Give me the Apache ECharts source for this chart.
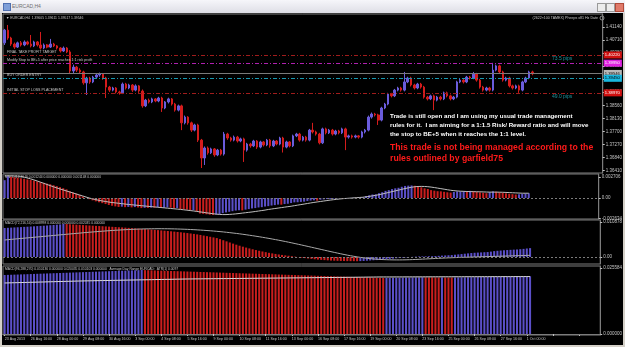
<!DOCTYPE html>
<html>
<head>
<meta charset="utf-8">
<script src="https://cdn.jsdelivr.net/npm/echarts@6/dist/echarts.min.js"></script>
<style>
  html, body { margin: 0; padding: 0; background: #d4d0c8; }
  #win { position: relative; width: 625px; height: 347px; background: #d4d0c8; overflow: hidden; }
  #titlebar { position: absolute; left: 0; top: 0; width: 625px; height: 13px; background: linear-gradient(#f6f6fa, #dedee6); }
  #titlebar .cap { position: absolute; left: 12px; top: 3px; font: 5px 'Liberation Sans'; color: #707070; }
  #titlebar .ico { position: absolute; left: 3px; top: 3px; width: 6px; height: 6px; background: #7f9fd8; border: 1px solid #5070b0; }
  .btn { position: absolute; top: 3px; width: 7px; height: 7px; border: 1px solid #9a9a9a; background: #ececec; }
  .btn.x { background: #e07a6a; border-color: #b04a3a; }
  #frame { position: absolute; left: 2px; top: 13px; width: 621px; height: 332px; background: #000; }
  #chart { position: absolute; left: 0; top: 0; width: 625px; height: 347px; }
</style>
</head>
<body>
<div id="win">
  <div id="titlebar"><div class="ico"></div><span class="cap">EURCAD,H4</span>
    <div class="btn" style="left:597px"></div><div class="btn" style="left:606px"></div><div class="btn x" style="left:615px"></div>
  </div>
  <div id="frame"></div>
  <div id="chart"></div>
</div>
<script>
// H4 bars, 23 Aug 2013 .. 1 Oct 2013 : [open, close, low, high]
const candles = [
  [1.4062,1.4104,1.4055,1.4108],[1.4104,1.4078,1.4072,1.4121],[1.4078,1.4058,1.4052,1.4082],[1.4058,1.4048,1.4042,1.4063],
  [1.4048,1.4062,1.4045,1.4066],[1.4062,1.4055,1.4050,1.4068],[1.4055,1.4065,1.4051,1.4070],[1.4065,1.4058,1.4054,1.4069],
  [1.4058,1.4052,1.4047,1.4088],[1.4052,1.4065,1.4048,1.4069],[1.4065,1.4055,1.4050,1.4068],[1.4055,1.4045,1.4040,1.4098],
  [1.4045,1.4055,1.4041,1.4060],[1.4055,1.4048,1.4044,1.4058],[1.4048,1.4058,1.4045,1.4075],[1.4058,1.4052,1.4048,1.4062],
  [1.4052,1.4045,1.4040,1.4055],[1.4045,1.4035,1.4030,1.4048],[1.4035,1.4045,1.4032,1.4050],[1.4045,1.4032,1.4028,1.4048],
  [1.4032,1.3969,1.3959,1.4038],[1.3969,1.3982,1.3962,1.3990],[1.3982,1.3972,1.3966,1.3986],[1.3972,1.3966,1.3960,1.3978],
  [1.3966,1.3930,1.3924,1.3970],[1.3930,1.3946,1.3890,1.3950],[1.3946,1.3933,1.3927,1.3950],[1.3933,1.3949,1.3929,1.3953],
  [1.3949,1.3956,1.3944,1.3960],[1.3956,1.3959,1.3950,1.3964],[1.3959,1.3946,1.3940,1.3962],[1.3946,1.3916,1.3880,1.3950],
  [1.3916,1.3906,1.3900,1.3920],[1.3906,1.3913,1.3902,1.3917],[1.3913,1.3900,1.3895,1.3916],[1.3900,1.3897,1.3891,1.3904],
  [1.3897,1.3926,1.3893,1.3931],[1.3926,1.3913,1.3908,1.3930],[1.3913,1.3923,1.3909,1.3927],[1.3923,1.3906,1.3900,1.3926],
  [1.3906,1.3920,1.3902,1.3925],[1.3920,1.3903,1.3897,1.3923],[1.3903,1.3854,1.3848,1.3908],[1.3854,1.3873,1.3850,1.3877],
  [1.3873,1.3867,1.3862,1.3878],[1.3867,1.3877,1.3863,1.3881],[1.3877,1.3870,1.3866,1.3880],[1.3870,1.3880,1.3866,1.3884],
  [1.3880,1.3847,1.3834,1.3884],[1.3847,1.3867,1.3843,1.3870],[1.3867,1.3877,1.3862,1.3881],[1.3877,1.3860,1.3855,1.3880],
  [1.3860,1.3840,1.3835,1.3864],[1.3840,1.3854,1.3836,1.3858],[1.3854,1.3798,1.3774,1.3858],[1.3798,1.3817,1.3793,1.3822],
  [1.3817,1.3798,1.3792,1.3820],[1.3798,1.3774,1.3768,1.3802],[1.3774,1.3791,1.3770,1.3795],[1.3791,1.3741,1.3735,1.3795],
  [1.3741,1.3682,1.3649,1.3745],[1.3682,1.3715,1.3659,1.3720],[1.3715,1.3699,1.3693,1.3720],[1.3699,1.3712,1.3695,1.3716],
  [1.3712,1.3692,1.3686,1.3715],[1.3692,1.3708,1.3688,1.3712],[1.3708,1.3695,1.3690,1.3712],[1.3695,1.3761,1.3690,1.3768],
  [1.3761,1.3748,1.3742,1.3765],[1.3748,1.3741,1.3736,1.3752],[1.3741,1.3751,1.3737,1.3756],[1.3751,1.3738,1.3733,1.3755],
  [1.3738,1.3745,1.3734,1.3749],[1.3745,1.3708,1.3669,1.3749],[1.3708,1.3728,1.3703,1.3732],[1.3728,1.3722,1.3716,1.3732],
  [1.3722,1.3738,1.3718,1.3742],[1.3738,1.3718,1.3712,1.3741],[1.3718,1.3735,1.3714,1.3739],[1.3735,1.3725,1.3720,1.3738],
  [1.3725,1.3741,1.3721,1.3745],[1.3741,1.3722,1.3716,1.3745],[1.3722,1.3738,1.3718,1.3742],[1.3738,1.3728,1.3724,1.3741],
  [1.3728,1.3748,1.3724,1.3752],[1.3748,1.3718,1.3700,1.3752],[1.3718,1.3735,1.3714,1.3739],[1.3735,1.3722,1.3717,1.3738],
  [1.3722,1.3755,1.3718,1.3759],[1.3755,1.3761,1.3751,1.3765],[1.3761,1.3741,1.3736,1.3765],[1.3741,1.3751,1.3737,1.3755],
  [1.3751,1.3741,1.3736,1.3755],[1.3741,1.3774,1.3737,1.3778],[1.3774,1.3768,1.3763,1.3798],[1.3768,1.3761,1.3756,1.3772],
  [1.3761,1.3732,1.3727,1.3765],[1.3732,1.3778,1.3728,1.3782],[1.3778,1.3765,1.3760,1.3782],[1.3765,1.3774,1.3761,1.3778],
  [1.3774,1.3761,1.3756,1.3778],[1.3761,1.3771,1.3757,1.3775],[1.3771,1.3765,1.3760,1.3775],[1.3765,1.3778,1.3761,1.3782],
  [1.3778,1.3751,1.3708,1.3782],[1.3751,1.3755,1.3746,1.3759],[1.3755,1.3751,1.3746,1.3759],[1.3751,1.3755,1.3747,1.3759],
  [1.3755,1.3751,1.3746,1.3758],[1.3751,1.3768,1.3747,1.3772],[1.3768,1.3774,1.3763,1.3778],[1.3774,1.3817,1.3770,1.3822],
  [1.3817,1.3827,1.3812,1.3832],[1.3827,1.3824,1.3819,1.3831],[1.3824,1.3807,1.3791,1.3828],[1.3807,1.3847,1.3803,1.3851],
  [1.3847,1.3860,1.3843,1.3864],[1.3860,1.3893,1.3856,1.3897],[1.3893,1.3887,1.3882,1.3897],[1.3887,1.3906,1.3883,1.3910],
  [1.3906,1.3913,1.3902,1.3917],[1.3913,1.3906,1.3901,1.3917],[1.3906,1.3933,1.3902,1.3966],[1.3933,1.3946,1.3929,1.3950],
  [1.3946,1.3923,1.3918,1.3950],[1.3923,1.3913,1.3908,1.3927],[1.3913,1.3926,1.3909,1.3930],[1.3926,1.3916,1.3911,1.3930],
  [1.3916,1.3883,1.3878,1.3920],[1.3883,1.3877,1.3872,1.3887],[1.3877,1.3887,1.3873,1.3891],[1.3887,1.3873,1.3840,1.3891],
  [1.3873,1.3883,1.3869,1.3887],[1.3883,1.3877,1.3872,1.3887],[1.3877,1.3897,1.3873,1.3901],[1.3897,1.3887,1.3882,1.3901],
  [1.3887,1.3877,1.3872,1.3891],[1.3877,1.3883,1.3873,1.3887],[1.3883,1.3933,1.3879,1.3937],[1.3933,1.3939,1.3929,1.3943],
  [1.3939,1.3933,1.3928,1.3943],[1.3933,1.3949,1.3929,1.3953],[1.3949,1.3946,1.3941,1.3953],[1.3946,1.3959,1.3942,1.3966],
  [1.3959,1.3939,1.3934,1.3963],[1.3939,1.3916,1.3911,1.3943],[1.3916,1.3906,1.3901,1.3920],[1.3906,1.3913,1.3902,1.3917],
  [1.3913,1.3906,1.3901,1.3917],[1.3906,1.3972,1.3902,1.3996],[1.3972,1.3986,1.3968,1.3990],[1.3986,1.3966,1.3961,1.3990],
  [1.3966,1.3939,1.3934,1.3970],[1.3939,1.3946,1.3935,1.3950],[1.3946,1.3920,1.3915,1.3950],[1.3920,1.3913,1.3908,1.3924],
  [1.3913,1.3920,1.3909,1.3924],[1.3920,1.3906,1.3897,1.3924],[1.3906,1.3933,1.3902,1.3937],[1.3933,1.3946,1.3929,1.3950],
  [1.3946,1.3966,1.3942,1.3970],[1.3966,1.3960,1.3955,1.3970]
];

// MACD(12,26,9)
const macdFastHist = [
  0.00230,0.00282,0.00275,0.00268,0.00262,0.00255,0.00247,0.00240,0.00234,0.00226,
  0.00215,0.00205,0.00196,0.00186,0.00178,0.00166,0.00154,0.00141,0.00127,0.00112,
  0.00088,0.00072,0.00058,0.00041,0.00020,0.00002,-0.00015,-0.00030,-0.00043,-0.00055,
  -0.00066,-0.00078,-0.00090,-0.00100,-0.00108,-0.00115,-0.00112,-0.00118,-0.00115,-0.00121,
  -0.00117,-0.00122,-0.00130,-0.00127,-0.00128,-0.00124,-0.00125,-0.00120,-0.00128,-0.00126,
  -0.00122,-0.00125,-0.00132,-0.00130,-0.00145,-0.00146,-0.00150,-0.00160,-0.00158,-0.00175,
  -0.00200,-0.00205,-0.00210,-0.00215,-0.00219,-0.00214,-0.00212,-0.00195,-0.00186,-0.00178,
  -0.00170,-0.00162,-0.00158,-0.00160,-0.00150,-0.00143,-0.00135,-0.00130,-0.00122,-0.00118,
  -0.00110,-0.00105,-0.00097,-0.00092,-0.00085,-0.00086,-0.00078,-0.00074,-0.00065,-0.00056,
  -0.00055,-0.00050,-0.00047,-0.00038,-0.00033,-0.00030,-0.00035,-0.00022,-0.00018,-0.00014,
  -0.00012,-0.00008,-0.00006,-0.00002,-0.00008,-0.00005,0.00001,0.00003,0.00002,0.00006,
  0.00010,0.00025,0.00036,0.00045,0.00048,0.00062,0.00075,0.00092,0.00102,0.00115,
  0.00125,0.00132,0.00145,0.00156,0.00160,0.00162,0.00158,0.00152,0.00138,0.00125,
  0.00116,0.00102,0.00095,0.00088,0.00086,0.00080,0.00074,0.00070,0.00078,0.00085,
  0.00086,0.00090,0.00089,0.00092,0.00088,0.00080,0.00072,0.00068,0.00062,0.00075,
  0.00086,0.00082,0.00074,0.00068,0.00060,0.00054,0.00050,0.00045,0.00048,0.00053,
  0.00060,0.00062
];
const macdFastSignal = [
  0.00286,0.00286,0.00285,0.00284,0.00282,0.00279,0.00270,0.00259,0.00247,0.00234,
  0.00220,0.00205,0.00190,0.00175,0.00160,0.00145,0.00131,0.00117,0.00104,0.00091,
  0.00078,0.00065,0.00052,0.00039,0.00026,0.00013,0.00000,-0.00011,-0.00021,-0.00030,
  -0.00038,-0.00045,-0.00052,-0.00058,-0.00063,-0.00068,-0.00073,-0.00078,-0.00083,-0.00087,
  -0.00091,-0.00095,-0.00099,-0.00103,-0.00107,-0.00111,-0.00115,-0.00119,-0.00123,-0.00127,
  -0.00131,-0.00135,-0.00139,-0.00143,-0.00147,-0.00152,-0.00157,-0.00162,-0.00167,-0.00173,
  -0.00179,-0.00185,-0.00191,-0.00197,-0.00203,-0.00208,-0.00212,-0.00214,-0.00214,-0.00212,
  -0.00209,-0.00205,-0.00200,-0.00195,-0.00190,-0.00185,-0.00180,-0.00174,-0.00168,-0.00162,
  -0.00156,-0.00148,-0.00142,-0.00136,-0.00130,-0.00124,-0.00118,-0.00112,-0.00106,-0.00099,
  -0.00092,-0.00085,-0.00078,-0.00071,-0.00064,-0.00057,-0.00051,-0.00045,-0.00039,-0.00033,
  -0.00027,-0.00022,-0.00017,-0.00012,-0.00008,-0.00005,-0.00002,0.00001,0.00004,0.00007,
  0.00010,0.00015,0.00021,0.00028,0.00035,0.00043,0.00052,0.00062,0.00072,0.00082,
  0.00092,0.00102,0.00112,0.00122,0.00131,0.00139,0.00145,0.00149,0.00150,0.00149,
  0.00146,0.00141,0.00135,0.00128,0.00121,0.00114,0.00107,0.00100,0.00095,0.00091,
  0.00088,0.00086,0.00084,0.00083,0.00082,0.00081,0.00080,0.00079,0.00077,0.00076,
  0.00076,0.00076,0.00075,0.00074,0.00072,0.00070,0.00068,0.00066,0.00064,0.00062,
  0.00062,0.00062
];

// MACD(72,216,54)
const macdMidHist = [
  0.00899,0.00905,0.00911,0.00917,0.00922,0.00928,0.00934,0.00939,0.00945,0.00951,
  0.00958,0.00964,0.00970,0.00977,0.00985,0.00993,0.01002,0.01010,0.01025,0.01022,
  0.01015,0.01008,0.01002,0.00996,0.00989,0.00983,0.00977,0.00971,0.00965,0.00960,
  0.00954,0.00948,0.00942,0.00936,0.00930,0.00923,0.00917,0.00910,0.00903,0.00896,
  0.00889,0.00882,0.00873,0.00865,0.00857,0.00849,0.00841,0.00833,0.00824,0.00815,
  0.00806,0.00797,0.00787,0.00777,0.00766,0.00754,0.00742,0.00729,0.00716,0.00701,
  0.00684,0.00665,0.00646,0.00627,0.00607,0.00587,0.00555,0.00520,0.00485,0.00450,
  0.00415,0.00382,0.00350,0.00320,0.00292,0.00266,0.00240,0.00216,0.00193,0.00171,
  0.00150,0.00130,0.00112,0.00095,0.00079,0.00064,0.00051,0.00039,0.00025,0.00010,
  -0.00005,-0.00020,-0.00034,-0.00047,-0.00059,-0.00070,-0.00080,-0.00089,-0.00097,-0.00104,
  -0.00110,-0.00115,-0.00119,-0.00122,-0.00125,-0.00127,-0.00128,-0.00129,-0.00130,-0.00127,
  -0.00123,-0.00116,-0.00108,-0.00101,-0.00096,-0.00088,-0.00079,-0.00068,-0.00059,-0.00049,
  -0.00039,-0.00030,-0.00020,-0.00010,-0.00002,0.00005,0.00011,0.00016,0.00018,0.00020,
  0.00023,0.00025,0.00030,0.00036,0.00043,0.00049,0.00054,0.00059,0.00070,0.00081,
  0.00091,0.00102,0.00112,0.00123,0.00131,0.00137,0.00142,0.00148,0.00153,0.00167,
  0.00182,0.00193,0.00201,0.00209,0.00216,0.00222,0.00228,0.00233,0.00242,0.00252,
  0.00264,0.00275
];
const macdMidSignal = [
  0.00527,0.00537,0.00546,0.00556,0.00565,0.00574,0.00584,0.00593,0.00602,0.00612,
  0.00621,0.00630,0.00640,0.00649,0.00658,0.00668,0.00677,0.00686,0.00696,0.00705,
  0.00714,0.00723,0.00732,0.00741,0.00750,0.00759,0.00768,0.00776,0.00784,0.00792,
  0.00800,0.00808,0.00815,0.00822,0.00829,0.00835,0.00841,0.00847,0.00852,0.00857,
  0.00861,0.00865,0.00868,0.00871,0.00873,0.00875,0.00876,0.00877,0.00877,0.00876,
  0.00875,0.00873,0.00871,0.00868,0.00865,0.00861,0.00857,0.00852,0.00847,0.00841,
  0.00835,0.00828,0.00821,0.00813,0.00805,0.00796,0.00787,0.00777,0.00766,0.00755,
  0.00743,0.00731,0.00718,0.00704,0.00690,0.00675,0.00660,0.00644,0.00628,0.00611,
  0.00594,0.00576,0.00558,0.00539,0.00520,0.00500,0.00480,0.00459,0.00438,0.00416,
  0.00394,0.00372,0.00349,0.00326,0.00303,0.00280,0.00257,0.00234,0.00211,0.00188,
  0.00165,0.00143,0.00121,0.00099,0.00078,0.00058,0.00039,0.00021,0.00004,-0.00012,
  -0.00026,-0.00039,-0.00050,-0.00060,-0.00068,-0.00075,-0.00080,-0.00084,-0.00087,-0.00089,
  -0.00090,-0.00090,-0.00089,-0.00087,-0.00084,-0.00080,-0.00076,-0.00071,-0.00066,-0.00061,
  -0.00056,-0.00051,-0.00046,-0.00041,-0.00036,-0.00031,-0.00027,-0.00023,-0.00019,-0.00015,
  -0.00011,-0.00008,-0.00005,-0.00002,0.00001,0.00004,0.00007,0.00010,0.00013,0.00016,
  0.00019,0.00022,0.00025,0.00028,0.00031,0.00034,0.00037,0.00040,0.00043,0.00046,
  0.00049,0.00052
];

// MACD(96,288,270)
const macdSlowHist = [
  0.02289,0.02294,0.02298,0.02303,0.02307,0.02312,0.02316,0.02321,0.02326,0.02330,
  0.02335,0.02339,0.02344,0.02349,0.02353,0.02358,0.02362,0.02367,0.02372,0.02376,
  0.02381,0.02385,0.02390,0.02395,0.02399,0.02404,0.02408,0.02413,0.02418,0.02422,
  0.02427,0.02431,0.02436,0.02441,0.02445,0.02450,0.02454,0.02459,0.02464,0.02468,
  0.02473,0.02477,0.02482,0.02478,0.02474,0.02470,0.02466,0.02462,0.02457,0.02453,
  0.02449,0.02445,0.02441,0.02437,0.02432,0.02428,0.02424,0.02420,0.02416,0.02412,
  0.02407,0.02403,0.02399,0.02395,0.02391,0.02387,0.02382,0.02378,0.02374,0.02370,
  0.02366,0.02362,0.02357,0.02353,0.02349,0.02345,0.02341,0.02337,0.02332,0.02328,
  0.02324,0.02320,0.02316,0.02312,0.02307,0.02303,0.02299,0.02295,0.02291,0.02287,
  0.02282,0.02278,0.02274,0.02270,0.02266,0.02262,0.02257,0.02253,0.02249,0.02245,
  0.02241,0.02237,0.02232,0.02228,0.02224,0.02220,0.02216,0.02212,0.02207,0.02203,
  0.02199,0.02195,0.02191,0.02187,0.02182,0.02178,0.02174,0.02176,0.02178,0.02180,
  0.02182,0.02184,0.02186,0.02188,0.02190,0.02192,0.02194,0.02196,0.02198,0.02197,
  0.02196,0.02195,0.02194,0.02193,0.02194,0.02193,0.02192,0.02191,0.02193,0.02195,
  0.02197,0.02199,0.02201,0.02203,0.02205,0.02207,0.02209,0.02211,0.02213,0.02215,
  0.02217,0.02219,0.02221,0.02223,0.02225,0.02227,0.02229,0.02231,0.02233,0.02235,
  0.02237,0.02239
];
const macdSlowSignal = [
  0.01979,0.01982,0.01986,0.01989,0.01992,0.01996,0.01999,0.02002,0.02006,0.02009,
  0.02013,0.02016,0.02019,0.02023,0.02026,0.02029,0.02033,0.02036,0.02039,0.02043,
  0.02046,0.02049,0.02053,0.02056,0.02058,0.02061,0.02063,0.02065,0.02068,0.02070,
  0.02073,0.02075,0.02077,0.02080,0.02082,0.02084,0.02087,0.02089,0.02092,0.02094,
  0.02096,0.02099,0.02101,0.02103,0.02106,0.02108,0.02111,0.02113,0.02115,0.02118,
  0.02120,0.02122,0.02125,0.02127,0.02130,0.02132,0.02134,0.02135,0.02137,0.02138,
  0.02139,0.02141,0.02142,0.02143,0.02145,0.02146,0.02147,0.02148,0.02150,0.02151,
  0.02152,0.02154,0.02155,0.02156,0.02158,0.02159,0.02160,0.02161,0.02163,0.02164,
  0.02165,0.02167,0.02168,0.02169,0.02171,0.02172,0.02173,0.02175,0.02176,0.02177,
  0.02179,0.02180,0.02181,0.02183,0.02184,0.02185,0.02187,0.02188,0.02189,0.02191,
  0.02192,0.02193,0.02195,0.02196,0.02197,0.02199,0.02200,0.02201,0.02203,0.02204,
  0.02205,0.02207,0.02208,0.02209,0.02211,0.02212,0.02212,0.02213,0.02213,0.02213,
  0.02214,0.02214,0.02214,0.02215,0.02215,0.02215,0.02216,0.02216,0.02216,0.02217,
  0.02217,0.02217,0.02218,0.02218,0.02218,0.02219,0.02219,0.02219,0.02220,0.02220,
  0.02220,0.02221,0.02221,0.02221,0.02222,0.02222,0.02222,0.02223,0.02223,0.02223,
  0.02224,0.02224,0.02224,0.02225,0.02225,0.02225,0.02226,0.02226,0.02226,0.02227,
  0.02227,0.02227
];

// time axis: one label every 8 bars
const dateLabels = ['23 Aug 2013','26 Aug 16:00','28 Aug 00:00','29 Aug 08:00','30 Aug 16:00','3 Sep 00:00',
  '4 Sep 08:00','5 Sep 16:00','9 Sep 00:00','10 Sep 08:00','11 Sep 16:00','13 Sep 00:00','16 Sep 08:00',
  '17 Sep 16:00','19 Sep 00:00','20 Sep 08:00','23 Sep 16:00','25 Sep 00:00','26 Sep 08:00','27 Sep 16:00','1 Oct 00:00'];
const slotCount = 183;   // bars + empty right shift

const priceTicks = [1.41140,1.40710,1.40280,1.39850,1.39420,1.38990,1.38560,1.38130,1.37700,1.37270,1.36840,1.36410];
const fastTicks = [0.002706, 0, -0.002634];
const midTicks = [0.010878, 0, -0.0022];
const slowTicks = [0.025584, 0];

// trade levels drawn on the price pane
const levels = [
  { name: 'FINAL TAKE PROFIT TARGET', value: 1.4022, tag: '1.40220', color: '#a01c1c', tagBg: '#d01010', tagFg: '#fff' },
  { name: 'Modify Stop to BE+5 after price reaches 1:1 risk profit', value: 1.3995, tag: '1.39950', color: '#b020b0', tagBg: '#e020e0', tagFg: '#fff' },
  { name: '', value: 1.3961, tag: '1.39546', color: '#7a7a7a', tagBg: '#b8b8b8', tagFg: '#000', solid: true },
  { name: 'BUY ORDER ENTRY', value: 1.3945, tag: '1.39450', color: '#1898b0', tagBg: '#18b8e0', tagFg: '#000' },
  { name: 'INITIAL STOP LOSS PLACEMENT', value: 1.3897, tag: '1.38970', color: '#a01c1c', tagBg: '#d01010', tagFg: '#fff' }
];
const pipNotes = [
  { text: '73.5 pips', slot: 167, price: 1.4009 },
  { text: '49.0 pips', slot: 167, price: 1.3883 }
];

const UP = '#6a5cdc', DOWN = '#d41c1c';
const BAR_UP = '#5b4fc8', BAR_DOWN = '#c81e1e';
const AXIS = '#7c7c7c', TXT = '#c4c4c4';
const FONT = 'Liberation Sans';

const categories = Array.from({ length: slotCount }, (_, i) => String(i));

const colorBars = arr => arr.map((v, i) => ({
  value: v,
  itemStyle: { color: (i === 0 || v >= arr[i - 1]) ? BAR_UP : BAR_DOWN }
}));

const zeroLine = {
  symbol: 'none', silent: true, animation: false, precision: 6, label: { show: false },
  lineStyle: { color: AXIS, type: [2, 2], width: 1 },
  data: [{ yAxis: 0 }]
};

const gridBox = (top, height) => ({
  left: 3, top: top, width: 602, height: height, show: true,
  borderColor: AXIS, borderWidth: 1, backgroundColor: 'transparent'
});

const xAxisFor = (gi, showLabels) => ({
  type: 'category', gridIndex: gi, data: categories, boundaryGap: true,
  axisLine: { show: showLabels, lineStyle: { color: AXIS } },
  axisTick: { show: showLabels, interval: i => i % 8 === 0, alignWithLabel: true, length: 2, lineStyle: { color: TXT } },
  axisLabel: {
    show: showLabels, interval: i => i % 8 === 0, align: 'left', margin: 2,
    color: TXT, fontSize: 3.6, fontFamily: FONT,
    formatter: (v, i) => dateLabels[i / 8] || ''
  },
  splitLine: { show: false }
});

const yAxisFor = (gi, min, max, ticks, fmt) => ({
  type: 'value', gridIndex: gi, position: 'right', min: min, max: max,
  splitLine: { show: false },
  axisLine: { show: true, lineStyle: { color: AXIS } },
  axisTick: { show: true, customValues: ticks, length: 2, lineStyle: { color: TXT } },
  axisLabel: { customValues: ticks, formatter: fmt, color: TXT, fontSize: 4.5, fontFamily: FONT, margin: 3 }
});

const markLineData = [];
levels.forEach(l => {
  const ls = () => ({ color: l.color, width: 1, type: l.solid ? 'solid' : [4, 2, 1, 2] });
  markLineData.push({
    yAxis: l.value, lineStyle: ls(),
    label: {
      show: true, position: 'end', distance: 1, formatter: l.tag,
      backgroundColor: l.tagBg, color: l.tagFg, fontSize: 4.2, fontFamily: FONT,
      padding: [1, 2, 1, 1], lineHeight: 5
    }
  });
  if (l.name) {
    markLineData.push({
      yAxis: l.value, lineStyle: ls(),
      label: {
        show: true, position: 'insideStartTop', distance: [4, 1], formatter: l.name,
        color: '#c8c8c8', fontSize: 3.6, fontFamily: FONT
      }
    });
  }
});

const textEl = (x, y, text, font, fill, align) => ({
  type: 'text', x: x, y: y, silent: true,
  style: { text: text, font: font, fill: fill, align: align || 'left', verticalAlign: 'middle' }
});

const chart = echarts.init(document.getElementById('chart'), null, { renderer: 'canvas' });

chart.setOption({
  animation: false,
  backgroundColor: 'transparent',
  grid: [gridBox(14, 159), gridBox(174, 45), gridBox(220, 44), gridBox(266, 69)],
  xAxis: [xAxisFor(0, false), xAxisFor(1, false), xAxisFor(2, false), xAxisFor(3, true)],
  yAxis: [
    yAxisFor(0, 1.36325, 1.41572, priceTicks, v => v.toFixed(5)),
    yAxisFor(1, -0.00271, 0.00310, fastTicks, v => v === 0 ? '0.00' : v.toFixed(6)),
    yAxisFor(2, -0.00217, 0.01147, midTicks, v => v === 0 ? '0.00' : v.toFixed(6)),
    yAxisFor(3, -0.00039, 0.02638, slowTicks, v => v === 0 ? '0.000000' : v.toFixed(6))
  ],
  series: [
    {
      type: 'candlestick', xAxisIndex: 0, yAxisIndex: 0, data: candles, barWidth: '62%',
      itemStyle: { color: UP, color0: DOWN, borderColor: UP, borderColor0: DOWN, borderWidth: 1 },
      markLine: { symbol: 'none', silent: true, animation: false, precision: 6, data: markLineData }
    },
    {
      type: 'scatter', xAxisIndex: 0, yAxisIndex: 0, symbolSize: 0, silent: true, z: 5,
      data: pipNotes.map(p => ({ value: [p.slot, p.price], name: p.text })),
      label: { show: true, position: 'right', distance: 0, formatter: p => p.name, color: '#20b8c4', fontSize: 5, fontFamily: FONT }
    },
    {
      type: 'bar', xAxisIndex: 1, yAxisIndex: 1, data: colorBars(macdFastHist), barWidth: '62%', markLine: zeroLine
    },
    {
      type: 'line', xAxisIndex: 1, yAxisIndex: 1, data: macdFastSignal, showSymbol: false,
      lineStyle: { color: '#bdbdbd', width: 1 }
    },
    {
      type: 'bar', xAxisIndex: 2, yAxisIndex: 2, data: colorBars(macdMidHist), barWidth: '62%', markLine: zeroLine
    },
    {
      type: 'line', xAxisIndex: 2, yAxisIndex: 2, data: macdMidSignal, showSymbol: false,
      lineStyle: { color: '#a8a8a8', width: 1 }
    },
    {
      type: 'bar', xAxisIndex: 3, yAxisIndex: 3, data: colorBars(macdSlowHist), barWidth: '62%', markLine: zeroLine
    },
    {
      type: 'line', xAxisIndex: 3, yAxisIndex: 3, data: macdSlowSignal, showSymbol: false, step: 'middle',
      lineStyle: { color: '#d8d8d8', width: 1 }
    }
  ],
  graphic: [
    textEl(6, 18, '\u25BC EURCAD,H4  1.39605 1.39611 1.39517 1.39546', '3.4px "Liberation Sans"', '#c8c8c8'),
    textEl(598, 18, '(2622\u00D7100 TAMEX) Pheeps x81 Hz Date', '3.6px "Liberation Sans"', '#c8c8c8', 'right'),
    { type: 'circle', shape: { cx: 602, cy: 18, r: 2 }, style: { fill: 'none', stroke: '#c8c8c8', lineWidth: 0.7 }, silent: true },
    textEl(5, 177, 'MACD(12,26,9) 0.001244 0.000000 0.000000 0.001148 0.000000', '3.3px "Liberation Sans"', '#c8c8c8'),
    textEl(5, 223, 'MACD(72,216,54) 0.008998 0.000000 0.000000 0.002035 0.000000', '3.3px "Liberation Sans"', '#c8c8c8'),
    textEl(5, 269, 'MACD(96,288,270) 0.010136 0.000000 0.020035 0.010103 0.000000   Average Day Range EURCAD:  ATR(1) 0.0097', '3.3px "Liberation Sans"', '#c8c8c8'),
    textEl(390, 116, 'Trade is still open and I am using my usual trade management', 'bold 6.2px "Liberation Sans"', '#ffffff'),
    textEl(390, 125, 'rules for it.  I am aiming for a 1:1.5 Risk/ Reward ratio and will move', 'bold 6.2px "Liberation Sans"', '#ffffff'),
    textEl(390, 134, 'the stop to BE+5 when it reaches the 1:1 level.', 'bold 6.2px "Liberation Sans"', '#ffffff'),
    textEl(390, 148, 'This trade is not being managed according to the', 'bold 8.7px "Liberation Sans"', '#ff1a1a'),
    textEl(390, 159, 'rules outlined by garfield75', 'bold 8.7px "Liberation Sans"', '#ff1a1a')
  ]
});
</script>
</body>
</html>
